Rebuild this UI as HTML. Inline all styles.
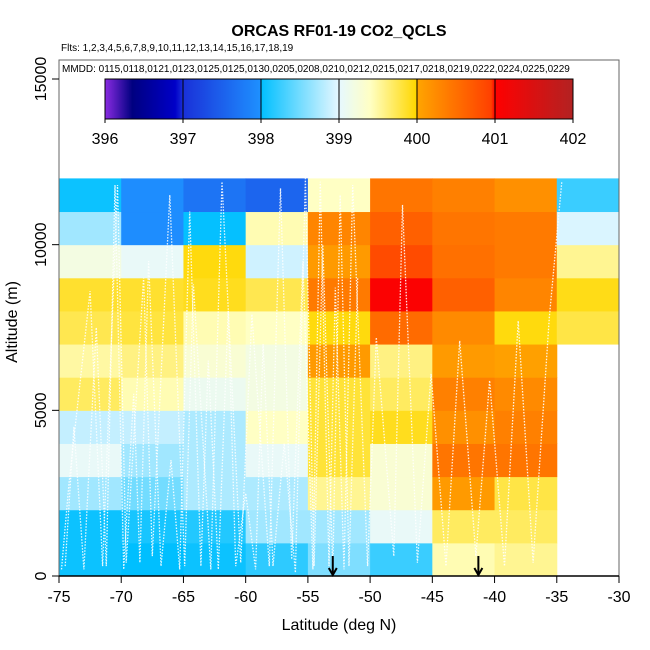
<!DOCTYPE html>
<html><head><meta charset="utf-8">
<style>
body{margin:0;background:#fff;}
svg{display:block;font-family:"Liberation Sans",Arial,sans-serif;}
</style></head>
<body>
<svg id="chart" width="650" height="650" viewBox="0 0 650 650" xmlns="http://www.w3.org/2000/svg">
<text x="339" y="36" font-size="16" font-weight="bold" text-anchor="middle">ORCAS RF01-19 CO2_QCLS</text>
<text x="61" y="51" font-size="10">Flts: 1,2,3,4,5,6,7,8,9,10,11,12,13,14,15,16,17,18,19</text>
<g id="cells"></g>
<g id="tracks"></g>
<rect x="60" y="61" width="558" height="95" fill="#fff"/>
<text x="62" y="72" font-size="10">MMDD: 0115,0118,0121,0123,0125,0125,0130,0205,0208,0210,0212,0215,0217,0218,0219,0222,0224,0225,0229</text>
<defs><linearGradient id="cbar" x1="0" x2="1" y1="0" y2="0"></linearGradient></defs>
<g id="colorbar"></g>
<g id="axes"></g>
<text x="339" y="630" font-size="16" text-anchor="middle">Latitude (deg N)</text>
<text transform="translate(17,322) rotate(-90)" font-size="16" text-anchor="middle">Altitude (m)</text>
</svg>
<script>
// Data
const latEdges = [-75,-70,-65,-60,-55,-50,-45,-40,-35,-30];
const altStep = 1000;
// co2 values: one array per latitude column, rows from 0-1000m upward to 11000-12000m
const col0 = [398.05,398.05,398.7,399.05,398.85,399.7,399.5,399.75,399.85,399.2,398.7,398.05];
const col1 = [398.0,398.1,398.5,398.7,398.85,399.45,399.6,399.8,399.85,399.05,397.96,397.96];
const col2 = [398.05,398.15,398.75,398.75,398.75,399.1,399.3,399.45,399.9,399.95,398.02,397.7];
const col3 = [398.2,398.7,398.75,399.05,399.4,399.2,399.2,399.4,399.75,398.9,399.45,397.55];
const col4 = [398.55,398.7,399.55,399.82,399.82,399.82,400.1,399.95,400.4,400.1,400.3,399.4];
const col5 = [398.25,399.05,399.3,399.3,399.9,399.7,399.6,400.55,401.05,400.85,400.65,400.45];
const col6 = [399.45,399.7,400.1,400.45,400.2,400.35,400.1,400.25,400.65,400.5,400.45,400.35];
const col7 = [399.55,399.7,399.78,400.45,400.35,400.25,400.05,399.95,400.3,400.4,400.4,400.2];
const col8 = [null,null,null,null,null,null,null,399.78,399.92,399.55,398.95,398.25];
const columns = [col0,col1,col2,col3,col4,col5,col6,col7,col8];
const xTicks = [-75,-70,-65,-60,-55,-50,-45,-40,-35,-30];
const yTicks = [0,5000,10000,15000];
const cbTicks = [396,397,398,399,400,401,402];
const arrowLats = [-53,-41.3];
// approximate flight track samples (lat, alt)
const trackLats = [-74.8,-74.2,-72.5,-71.5,-70.3,-69.6,-68.2,-67.5,-66.1,-64.9,-64.2,-62.8,-61.9,-60.4,-59.5,-58.1,-57.2,-56.3,-55.4,-54.6,-54.0,-53.3,-52.8,-52.1,-51.4,-50.2,-49.5,-48.1,-47.4,-46.2,-45.1,-43.9,-42.8,-41.5,-40.4,-39.2,-38.1,-36.9,-35.6,-34.6];
const trackAlts = [200,2800,8600,300,11800,400,9000,600,11500,300,8800,200,11900,400,7900,300,11700,500,9500,200,11900,300,8700,200,11800,300,7200,600,11200,400,6100,300,7100,600,5900,300,7700,400,7800,11900];
const track2Lats = [-74.5,-73.8,-73.0,-72.0,-71.2,-70.5,-69.8,-69.0,-68.5,-67.8,-66.8,-66.0,-65.3,-64.5,-63.6,-63.0,-62.2,-61.4,-60.8,-60.0,-59.2,-58.6,-57.8,-56.9,-56.0,-55.2,-54.5,-53.8,-53.0,-52.4,-51.7,-51.0];
const track2Alts = [300,4500,200,7500,300,11800,200,5500,400,9500,300,3500,200,11000,300,6500,200,8000,300,2500,200,7000,300,4000,100,12000,300,10000,200,11500,300,9000];
// Scales
const X0=59,X1=619,Y0=576,PXM=(576-79)/15000;
const xs=v=>X0+(v+75)*(X1-X0)/45;
const ys=v=>Y0-v*PXM;
const stops=[[396,"#8a2be2"],[396.35,"#000080"],[396.9,"#0000c8"],[397.0,"#1a30d8"],[397.99,"#1e90ff"],[398.0,"#00bfff"],[399.0,"#e6f8ff"],[399.4,"#ffffc4"],[399.99,"#ffd700"],[400.0,"#ffa500"],[400.95,"#ff4000"],[401.0,"#ff0000"],[402,"#b22222"]];
function hex(h){return [1,3,5].map(i=>parseInt(h.substr(i,2),16));}
function color(v){
  if(v<=stops[0][0])return stops[0][1];
  for(let i=1;i<stops.length;i++){if(v<=stops[i][0]){const a=stops[i-1],b=stops[i];const t=(v-a[0])/(b[0]-a[0]||1);const ca=hex(a[1]),cb=hex(b[1]);return "rgb("+ca.map((c,k)=>Math.round(c+(cb[k]-c)*t)).join(",")+")";}}
  return stops[stops.length-1][1];
}
const NS="http://www.w3.org/2000/svg";
function mk(tag,attrs,parent){const e=document.createElementNS(NS,tag);for(const k in attrs)e.setAttribute(k,attrs[k]);parent.appendChild(e);return e;}
// Cells
const cg=document.getElementById('cells');
columns.forEach((col,ci)=>{col.forEach((v,ri)=>{if(v===null)return;
  const r=mk('rect',{x:xs(latEdges[ci]),y:ys((ri+1)*altStep),width:xs(latEdges[ci+1])-xs(latEdges[ci])+0.5,height:ys(ri*altStep)-ys((ri+1)*altStep)+0.5,fill:color(v)},cg);
  
  
});});
// Tracks
const tg=document.getElementById('tracks');
[[trackLats,trackAlts],[track2Lats,track2Alts]].forEach(([la,al])=>{
  let d="";la.forEach((x,i)=>{d+=(i?"L":"M")+xs(x).toFixed(1)+","+ys(al[i]).toFixed(1);});
  const tp=mk('path',{d:d,fill:"none",stroke:"#fff","stroke-width":1.3,"stroke-dasharray":"1.5,1.5",opacity:0.9},tg);
  
  
});
// Colorbar
const grad=document.getElementById('cbar');
for(let v=396;v<=402.001;v+=0.05){mk('stop',{offset:((v-396)/6).toFixed(4),"stop-color":color(v)},grad);}
[[397.99,398.0],[399.99,400.0]].forEach(p=>p.forEach(v=>mk('stop',{offset:((v-396)/6).toFixed(4),"stop-color":color(v)},grad)));
const st=[...grad.children].sort((a,b)=>a.getAttribute('offset')-b.getAttribute('offset'));st.forEach(s=>grad.appendChild(s));
const cb=document.getElementById('colorbar');
const CB0=105,CB1=573,cbx=v=>CB0+(v-396)*(CB1-CB0)/6;
const cbr=mk('rect',{x:CB0,y:79,width:CB1-CB0,height:40,fill:"url(#cbar)",stroke:"#000","stroke-width":1},cb);


cbTicks.forEach(t=>{
  mk('line',{x1:cbx(t),x2:cbx(t),y1:79,y2:123,stroke:"#000","stroke-width":1},cb);
  const tx=mk('text',{x:cbx(t),y:144,"font-size":16,"text-anchor":"middle"},cb);tx.textContent=t;
  
  
});
// Axes
const ag=document.getElementById('axes');
mk('rect',{x:X0,y:60,width:X1-X0,height:Y0-60,fill:"none",stroke:"#666","stroke-width":1},ag);
mk('line',{x1:X0,x2:X1,y1:Y0,y2:Y0,stroke:"#000","stroke-width":1.5},ag);
xTicks.forEach(t=>{
  mk('line',{x1:xs(t),x2:xs(t),y1:Y0,y2:Y0+7,stroke:"#000"},ag);
  const tx=mk('text',{x:xs(t),y:Y0+26,"font-size":16,"text-anchor":"middle"},ag);tx.textContent=t;
  
  
});
yTicks.forEach(t=>{
  mk('line',{x1:X0-7,x2:X0,y1:ys(t),y2:ys(t),stroke:"#000"},ag);
  const tx=mk('text',{transform:"translate("+(X0-13)+","+ys(t)+") rotate(-90)","font-size":16,"text-anchor":"middle"},ag);tx.textContent=t;
  
  
});
arrowLats.forEach(la=>{
  const g=mk('g',{stroke:"#000","stroke-width":2,fill:"none"},ag);
  
  
  const x=xs(la);
  mk('line',{x1:x,x2:x,y1:556,y2:575},g);
  mk('path',{d:"M"+(x-4)+",568L"+x+",575L"+(x+4)+",568"},g);
});
</script>
</body></html>
